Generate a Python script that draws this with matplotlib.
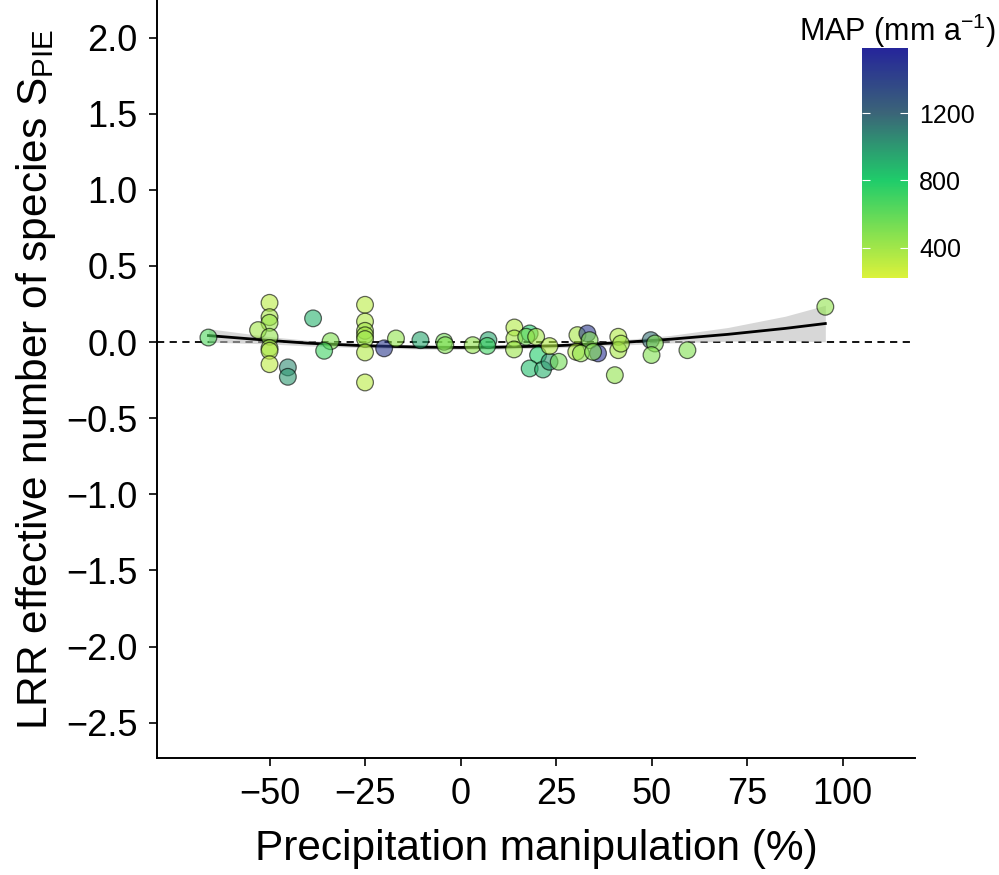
import matplotlib
matplotlib.use("Agg")
import matplotlib.pyplot as plt
import numpy as np
from matplotlib.colors import LinearSegmentedColormap, Normalize

plt.rcParams['font.family'] = ['Liberation Sans', 'DejaVu Sans']
plt.rcParams['mathtext.fontset'] = 'custom'
plt.rcParams['mathtext.rm'] = 'Liberation Sans'

# precipitation manipulation (%), LRR of S_PIE, mean annual precipitation (mm/a)
precip = [-66, -50, -50, -50, -53, -50, -50, -50, -50, -45.2, -45.2, -38.6, -34, -35.7,
          -25, -25, -25, -25, -25, -25, -25, -20, -16.9, -10.5, -4.3, -4, 3.2, 7.3, 7,
          14.1, 14.1, 14, 18.1, 17.2, 19.8, 20.3, 18.1, 21.6, 23.3, 25.7, 23.3,
          30.6, 33.2, 33.8, 30.3, 31.5, 36, 34.7, 41.3, 41.3, 40.4, 42,
          49.8, 50.9, 50, 59.4, 95.5]
lrr = [0.03, 0.258, 0.164, 0.127, 0.079, 0.035, -0.039, -0.057, -0.145, -0.166, -0.228, 0.156, 0.006, -0.057,
       0.245, 0.135, 0.074, 0.045, 0.02, -0.068, -0.265, -0.041, 0.024, 0.013, 0.002, -0.02, -0.02, 0.013, -0.025,
       0.096, 0.024, -0.048, 0.057, 0.035, 0.035, -0.085, -0.173, -0.18, -0.129, -0.129, -0.026,
       0.046, 0.057, 0.013, -0.064, -0.074, -0.074, -0.064, 0.035, -0.053, -0.217, -0.01,
       0.013, -0.009, -0.085, -0.053, 0.232]
map_mm = [650, 330, 380, 420, 400, 450, 400, 350, 320, 1050, 1000, 900, 500, 700,
          330, 350, 400, 380, 420, 350, 330, 1450, 450, 950, 550, 500, 450, 950, 700,
          350, 380, 420, 800, 550, 400, 800, 850, 900, 1000, 550, 350,
          380, 1450, 500, 350, 450, 1500, 500, 350, 380, 450, 400,
          1150, 500, 500, 500, 450]

# fitted curve and confidence band
fit_x = [-66, -50, -40, -25, -10, 0, 10, 25, 40, 55, 70, 85, 95.5]
fit_y = [0.043, 0.011, -0.007, -0.024, -0.033, -0.035, -0.033, -0.024, -0.006, 0.019, 0.051, 0.090, 0.122]
fit_lo = [0.000, -0.012, -0.025, -0.037, -0.046, -0.048, -0.046, -0.038, -0.022, -0.005, 0.006, 0.010, 0.002]
fit_hi = [0.088, 0.036, 0.012, -0.011, -0.020, -0.022, -0.020, -0.010, 0.010, 0.044, 0.096, 0.170, 0.242]

xticks = [-50, -25, 0, 25, 50, 75, 100]
yticks = [-2.5, -2.0, -1.5, -1.0, -0.5, 0.0, 0.5, 1.0, 1.5, 2.0]
cbar_ticks = [400, 800, 1200]

cmap = LinearSegmentedColormap.from_list(
    "map", [(0.0, "#dcf23a"), (0.425, "#1fcc6a"), (0.72, "#3b6478"), (1.0, "#25259a")])
norm = Normalize(vmin=220, vmax=1585)

fig = plt.figure(figsize=(9.99, 8.75), dpi=100)
ax = fig.add_axes([0.157, 0.134, 0.759, 0.866])

ax.axhline(0, color="black", linestyle=(0, (4, 3)), linewidth=1.3, zorder=1)
ax.fill_between(fit_x, fit_lo, fit_hi, color="#bdbdbd", alpha=0.6, linewidth=0, zorder=2)
ax.plot(fit_x, fit_y, color="black", linewidth=2.0, zorder=3)
ax.scatter(precip, lrr, c=map_mm, cmap=cmap, norm=norm, s=145, alpha=0.6,
           edgecolors="black", linewidths=0.9, zorder=4)

ax.set_xlim(-79.5, 119)
ax.set_ylim(-2.73, 2.247)
ax.set_xticks(xticks)
ax.set_xticklabels([f"{t}".replace("-", "\u2212") for t in xticks])
ax.set_yticks(yticks)
ax.set_yticklabels([f"{t:.1f}".replace("-", "\u2212") for t in yticks])
ax.tick_params(labelsize=26, length=6, width=1.2, pad=8)
for side in ["top", "right"]:
    ax.spines[side].set_visible(False)
for side in ["left", "bottom"]:
    ax.spines[side].set_linewidth(1.4)

ax.set_xlabel("Precipitation manipulation (%)", fontsize=30.5, labelpad=12)
ax.set_ylabel(r"LRR effective number of species S$_\mathregular{PIE}$", fontsize=30.5, labelpad=6)

cax = fig.add_axes([0.863, 0.682, 0.046, 0.263])
sm = plt.cm.ScalarMappable(norm=norm, cmap=cmap)
cbar = fig.colorbar(sm, cax=cax)
cbar.outline.set_visible(False)
cbar.set_ticks(cbar_ticks)
cbar.ax.tick_params(which="both", left=True, right=True, direction="in", color="white",
                    length=6, width=0.8, labelsize=18, pad=8)
fig.text(0.898, 0.987, r"MAP (mm a$^{\mathregular{-1}}$)", fontsize=22, ha="center", va="top")

fig.savefig("out.png", dpi=100)
